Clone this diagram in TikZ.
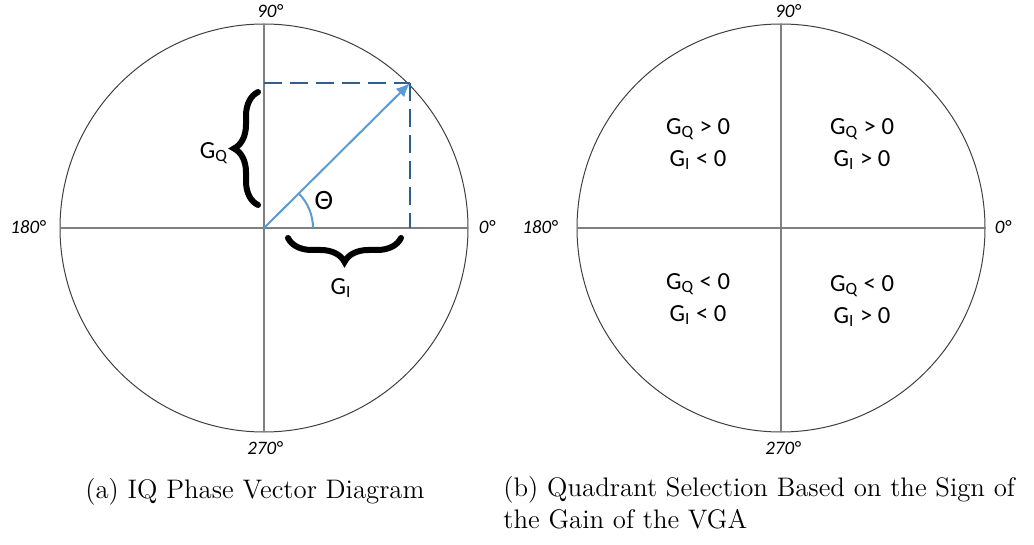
\documentclass[tikz,border=0pt]{standalone}
\usepackage{fontspec}
\newfontfamily\calibfont{Carlito}
\usetikzlibrary{arrows.meta, decorations.pathreplacing}

\definecolor{vecblue}{HTML}{5B9BD5}
\definecolor{dashblue}{HTML}{2F5F8F}
\definecolor{axisgray}{HTML}{7F7F7F}

\begin{document}
\begin{tikzpicture}[x=0.5pt, y=-0.5pt,
	ring/.style={draw=black!75, line width=0.5pt},
	axis/.style={draw=axisgray, line width=0.75pt},
	deg/.style={font=\calibfont\itshape\fontsize{9.5}{11}\selectfont, inner sep=0pt},
	glabel/.style={font=\calibfont\fontsize{12.3}{16}\selectfont, align=center, inner sep=0pt},
	proj/.style={draw=dashblue, line width=1.25pt, dash pattern=on 9pt off 4pt},
	vec/.style={draw=vecblue, line width=1pt, -{Latex[length=7pt, width=6pt]}},
	gbrace/.style={decorate, decoration={brace, amplitude=12pt}, line width=3pt, line cap=round},
	caption/.style={font=\fontsize{13.4}{16}\selectfont, inner sep=0pt, align=left}]

	\useasboundingbox (0,0) rectangle (1034,545);

	% (a) IQ phase vector
	\coordinate (ca) at (264,228);
	\coordinate (ca_n) at (264,24);
	\coordinate (ca_s) at (264,432);
	\coordinate (ca_w) at (60,228);
	\coordinate (ca_e) at (468,228);
	\draw[ring] (ca) circle[radius=102pt];
	\draw[axis] (ca_n) -- (ca_s);
	\draw[axis] (ca_w) -- (ca_e);

	\node[deg] (a90) at (270,11) {90°};
	\node[deg] (a270) at (265,448) {270°};
	\node[deg] (a180) at (28,227) {180°};
	\node[deg] (a0) at (487,227) {0°};

	\coordinate (tip) at (410,83);
	\coordinate (qa) at (264,83);
	\coordinate (ia) at (410,228);
	\draw[proj] (qa) -- (tip);
	\draw[proj] (tip) -- (ia);
	\draw[vec] (ca) -- (tip);

	% angle
	\coordinate (arc0) at (313,228);
	\draw[vecblue, line width=1pt] (arc0) arc[start angle=0, end angle=45, radius=24.5pt];
	\node[glabel, font=\calibfont\fontsize{14}{16}\selectfont] (theta) at (324,201) {Θ};

	% braces
	\coordinate (bq1) at (258,205);
	\coordinate (bq2) at (258,92);
	\draw[gbrace] (bq1) -- (bq2);
	\node[glabel] (gq) at (214,153) {G\textsubscript{Q}};

	\coordinate (bi1) at (401,238);
	\coordinate (bi2) at (288,238);
	\draw[gbrace] (bi1) -- (bi2);
	\node[glabel] (gi) at (341,288) {G\textsubscript{I}};

	% (b) quadrant selection
	\coordinate (cb) at (781,228);
	\coordinate (cb_n) at (781,24);
	\coordinate (cb_s) at (781,432);
	\coordinate (cb_w) at (577,228);
	\coordinate (cb_e) at (985,228);
	\draw[ring] (cb) circle[radius=102pt];
	\draw[axis] (cb_n) -- (cb_s);
	\draw[axis] (cb_w) -- (cb_e);

	\node[deg] (b90) at (788,11) {90°};
	\node[deg] (b270) at (783,448) {270°};
	\node[deg] (b180) at (540,227) {180°};
	\node[deg] (b0) at (1003,227) {0°};

	\node[glabel] (q2) at (698,144) {G\textsubscript{Q} > 0\\ G\textsubscript{I} < 0};
	\node[glabel] (q1) at (862,144) {G\textsubscript{Q} > 0\\ G\textsubscript{I} > 0};
	\node[glabel] (q3) at (698,299) {G\textsubscript{Q} < 0\\ G\textsubscript{I} < 0};
	\node[glabel] (q4) at (862,301) {G\textsubscript{Q} < 0\\ G\textsubscript{I} > 0};

	% captions
	\node[caption, anchor=west] (capa) at (85,492) {(a) IQ Phase Vector Diagram};
	\node[caption, anchor=west] (capb) at (503,503) {(b) Quadrant Selection Based on the Sign of\\the Gain of the VGA};
\end{tikzpicture}
\end{document}
